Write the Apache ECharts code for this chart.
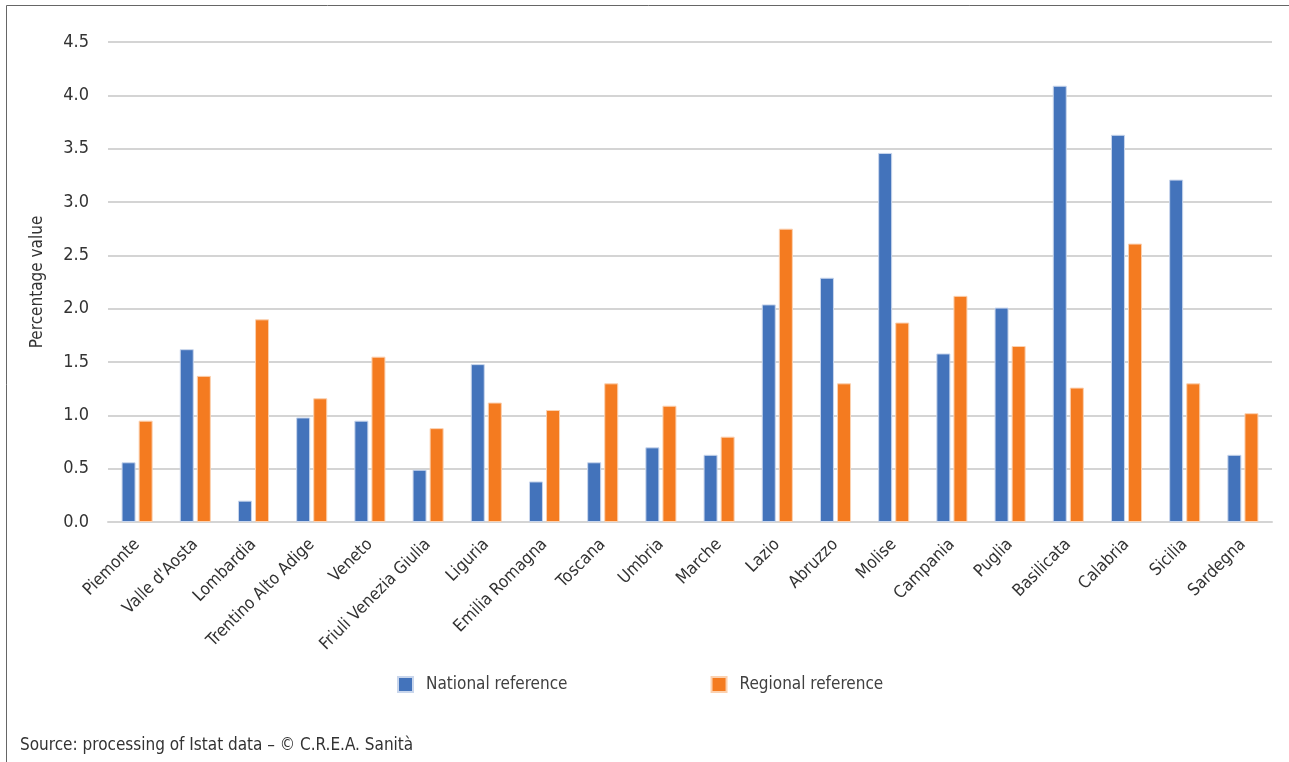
<!DOCTYPE html>
<html>
<head>
<meta charset="utf-8">
<script src="https://cdn.jsdelivr.net/npm/echarts@6/dist/echarts.min.js"></script>
<style>
html,body{margin:0;padding:0;background:#fff;}
#chart{width:1289px;height:762px;}
</style>
</head>
<body>
<div id="chart"></div>
<script>
const categories = ["Piemonte","Valle d'Aosta","Lombardia","Trentino Alto Adige","Veneto","Friuli Venezia Giulia","Liguria","Emilia Romagna","Toscana","Umbria","Marche","Lazio","Abruzzo","Molise","Campania","Puglia","Basilicata","Calabria","Sicilia","Sardegna"];
const nationalRef = [0.56,1.62,0.20,0.98,0.95,0.49,1.48,0.38,0.56,0.70,0.63,2.04,2.29,3.46,1.58,2.01,4.09,3.63,3.21,0.63];
const regionalRef = [0.95,1.37,1.90,1.16,1.55,0.88,1.12,1.05,1.30,1.09,0.80,2.75,1.30,1.87,2.12,1.65,1.26,2.61,1.30,1.02];
const yTicks = [0,0.5,1,1.5,2,2.5,3,3.5,4,4.5];

const FONT = "'Liberation Sans Narrow','DejaVu Sans Condensed','Roboto',sans-serif";
const chart = echarts.init(document.getElementById('chart'), null, {renderer:'canvas'});
chart.setOption({
  animation:false,
  backgroundColor:'#fff',
  textStyle:{fontFamily:FONT},
  grid:{left:108,right:17,top:42,bottom:240,containLabel:false},
  legend:{
    data:['National reference','Regional reference'],
    left:392, top:671,
    itemWidth:15, itemHeight:15, itemGap:143,
    icon:'rect',
    textStyle:{fontFamily:FONT,fontSize:17,color:'#404040',padding:[0,0,0,8]}
  },
  graphic:[
    {type:'rect',shape:{x:6.5,y:5.5,width:1400,height:900},style:{fill:'none',stroke:'#666',lineWidth:1},silent:true},
    {type:'text',left:20,top:737,style:{text:'Source: processing of Istat data – © C.R.E.A. Sanità',fontFamily:FONT,fontSize:17,fill:'#333'}}
  ],
  xAxis:{
    type:'category',
    data:categories,
    axisLine:{show:true,lineStyle:{color:'#d4d4d4',width:2}},
    axisTick:{show:false},
    axisLabel:{rotate:45,interval:0,fontFamily:FONT,fontSize:17,color:'#333',margin:20}
  },
  yAxis:{
    type:'value',
    min:0,max:4.5,interval:0.5,
    name:'Percentage value',
    nameLocation:'middle',
    nameGap:62,
    nameTextStyle:{fontFamily:FONT,fontSize:17,color:'#333'},
    axisLine:{show:false},
    axisTick:{show:false},
    axisLabel:{fontFamily:FONT,fontSize:18,color:'#333',margin:19,formatter:v=>v.toFixed(1)},
    splitLine:{lineStyle:{color:'#d4d4d4',width:2}}
  },
  series:[
    {name:'National reference',type:'bar',data:nationalRef,barWidth:14,barGap:'22%',
     itemStyle:{color:'#4373BB',borderColor:'#c9d6ec',borderWidth:1}},
    {name:'Regional reference',type:'bar',data:regionalRef,barWidth:14,
     itemStyle:{color:'#F47B20',borderColor:'#fbd1b0',borderWidth:1}}
  ]
});
</script>
</body>
</html>
